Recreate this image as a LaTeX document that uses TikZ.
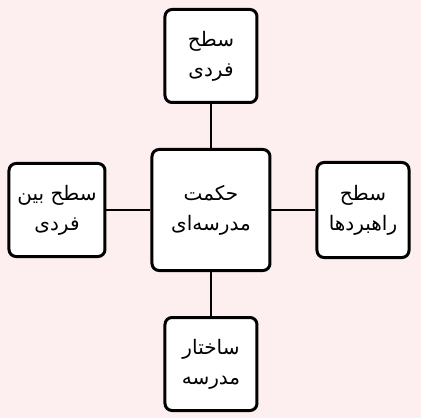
\documentclass[tikz,border=0pt]{standalone}
\usepackage{fontspec}
\newfontfamily\arabicfont[Script=Arabic]{DejaVu Sans}
\TeXXeTstate=1
\usetikzlibrary{positioning}
\newcommand{\fa}[1]{\beginR #1\endR}
\definecolor{bgpink}{RGB}{253,238,240}

\begin{document}
\begin{tikzpicture}[x=1pt, y=1pt, node distance=44pt,
		every node/.style={font=\arabicfont\fontsize{20}{30}\selectfont, align=center},
		level/.style={draw, line width=3pt, rounded corners=7pt, fill=white, minimum width=92pt, minimum height=93pt, inner sep=2pt},
		link/.style={line width=2.4pt}]
		\fill[bgpink] (-211,-208) rectangle (210,210);
		
		\node[level, minimum width=118pt, minimum height=121pt] (hekmat) {\fa{حکمت}\\\fa{مدرسه‌ای}};
		
		\node[level, above=of hekmat]  (fardi)     {\fa{سطح}\\\fa{فردی}};
		\node[level, left=of hekmat, minimum width=96pt]   (beinfardi) {\fa{سطح بین}\\\fa{فردی}};
		\node[level, right=of hekmat, minimum height=95pt]  (rahbord)   {\fa{سطح}\\\fa{راهبردها}};
		\node[level, below=of hekmat]  (sakhtar)   {\fa{ساختار}\\\fa{مدرسه}};
		
		\draw[link] (hekmat) -- (fardi);
		\draw[link] (hekmat) -- (beinfardi);
		\draw[link] (hekmat) -- (rahbord);
		\draw[link] (hekmat) -- (sakhtar);
	\end{tikzpicture}
\end{document}
